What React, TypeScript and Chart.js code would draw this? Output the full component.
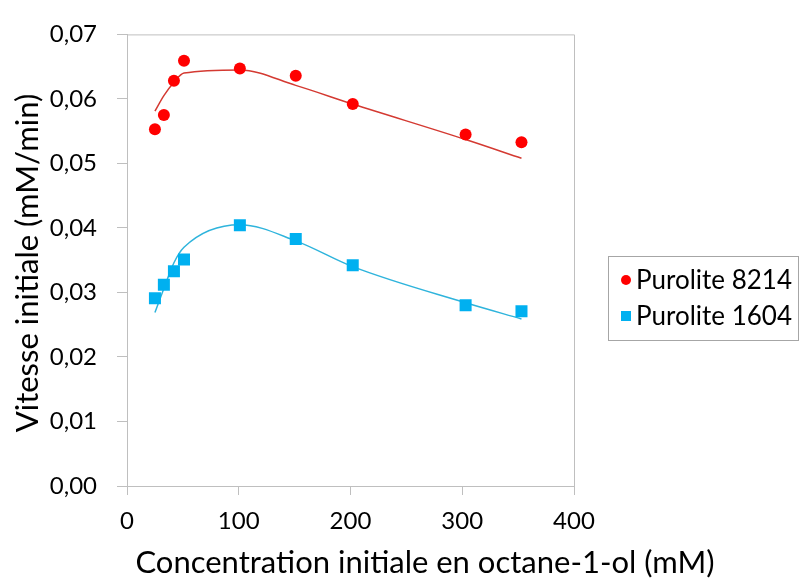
import React, { useEffect, useRef } from "react";
import { Chart, registerables } from "chart.js";

Chart.register(...registerables);

const concentrations = [25, 33, 42, 51, 101, 151, 202, 303, 353];
const purolite8214 = [0.0553, 0.0575, 0.0628, 0.0659, 0.0647, 0.0636, 0.0592, 0.0545, 0.0533];
const purolite1604 = [0.0291, 0.0312, 0.0333, 0.0351, 0.0404, 0.0383, 0.0342, 0.0280, 0.0271];
const fit8214 = [0.0581, 0.0605, 0.0626, 0.0640, 0.0645, 0.0621, 0.0592, 0.0537, 0.0508];
const fit1604 = [0.0269, 0.0306, 0.0346, 0.0370, 0.0405, 0.0380, 0.0340, 0.0284, 0.0259];
const seriesNames = ["Purolite 8214", "Purolite 1604"];
const xTitle = "Concentration initiale en octane-1-ol (mM)";
const yTitle = "Vitesse initiale (mM/min)";

const FONT = "Lato, 'Open Sans', sans-serif";
const RED = "#ff0000";
const RED_LINE = "#d43a32";
const BLUE = "#00b0f0";
const BLUE_LINE = "#2fb4dc";
const FRAME = "#bfbfbf";

const toXY = (xs: number[], ys: number[]) => xs.map((x, i) => ({ x, y: ys[i] }));

const decorPlugin = {
  id: "decor",
  afterDraw(chart: any) {
    const { ctx, chartArea } = chart;
    ctx.save();
    ctx.strokeStyle = FRAME;
    ctx.lineWidth = 1;
    ctx.beginPath();
    ctx.moveTo(chartArea.left, chartArea.top + 0.5);
    ctx.lineTo(chartArea.right + 0.5, chartArea.top + 0.5);
    ctx.lineTo(chartArea.right + 0.5, chartArea.bottom);
    ctx.stroke();

    ctx.fillStyle = "#000";
    ctx.font = `31px ${FONT}`;
    ctx.textAlign = "center";
    ctx.textBaseline = "middle";
    ctx.fillText(xTitle, 425, 563);
    ctx.save();
    ctx.translate(28, 263);
    ctx.rotate(-Math.PI / 2);
    ctx.fillText(yTitle, 0, 0);
    ctx.restore();

    const bx = 608, by = 256, bw = 190, bh = 84;
    ctx.fillStyle = "#fff";
    ctx.fillRect(bx, by, bw, bh);
    ctx.strokeStyle = "#a6a6a6";
    ctx.strokeRect(bx + 0.5, by + 0.5, bw, bh);
    ctx.font = `26px ${FONT}`;
    ctx.textAlign = "left";
    ctx.textBaseline = "middle";
    const rows = [
      { y: 280, color: RED, style: "circle" },
      { y: 316, color: BLUE, style: "rect" },
    ];
    rows.forEach((r, i) => {
      ctx.fillStyle = r.color;
      if (r.style === "circle") {
        ctx.beginPath();
        ctx.arc(626, r.y, 5, 0, Math.PI * 2);
        ctx.fill();
      } else {
        ctx.fillRect(621, r.y - 5, 10, 10);
      }
      ctx.fillStyle = "#000";
      ctx.fillText(seriesNames[i], 636, r.y + 1);
    });
    ctx.restore();
  },
};

export default function App() {
  const ref = useRef<HTMLCanvasElement>(null);
  useEffect(() => {
    if (!ref.current) return;
    const chart = new Chart(ref.current, {
      type: "scatter",
      data: {
        datasets: [
          {
            label: seriesNames[0] + " (modèle)",
            data: toXY(concentrations, fit8214),
            showLine: true,
            borderColor: RED_LINE,
            borderWidth: 1.5,
            pointRadius: 0,
            tension: 0.35,
            cubicInterpolationMode: "monotone",
            order: 2,
          },
          {
            label: seriesNames[1] + " (modèle)",
            data: toXY(concentrations, fit1604),
            showLine: true,
            borderColor: BLUE_LINE,
            borderWidth: 1.5,
            pointRadius: 0,
            tension: 0.35,
            cubicInterpolationMode: "monotone",
            order: 2,
          },
          {
            label: seriesNames[0],
            data: toXY(concentrations, purolite8214),
            backgroundColor: RED,
            borderColor: RED,
            pointStyle: "circle",
            pointRadius: 6,
            pointBorderWidth: 0,
            order: 1,
          },
          {
            label: seriesNames[1],
            data: toXY(concentrations, purolite1604),
            backgroundColor: BLUE,
            borderColor: BLUE,
            pointStyle: "rect",
            pointRadius: 8.5,
            pointBorderWidth: 0,
            order: 1,
          },
        ],
      } as any,
      options: {
        animation: false,
        responsive: false,
        maintainAspectRatio: false,
        layout: { padding: { top: 24, right: 235, left: 0, bottom: 0 } },
        plugins: { legend: { display: false }, tooltip: { enabled: false } },
        scales: {
          x: {
            type: "linear",
            min: 0,
            max: 400,
            ticks: {
              stepSize: 100,
              color: "#000",
              font: { family: FONT, size: 24 },
              padding: 12,
            },
            grid: { drawOnChartArea: false, tickLength: 9, color: FRAME },
            border: { color: FRAME },
            afterFit: (s: any) => {
              s.height = 97;
            },
          },
          y: {
            type: "linear",
            min: 0,
            max: 0.07,
            ticks: {
              stepSize: 0.01,
              color: "#000",
              font: { family: FONT, size: 24 },
              padding: 20,
              callback: (v: any) => Number(v).toFixed(2).replace(".", ","),
            },
            grid: { drawOnChartArea: false, tickLength: 10, color: FRAME },
            border: { color: FRAME },
            afterFit: (s: any) => {
              s.width = 127;
            },
          },
        },
      } as any,
      plugins: [decorPlugin],
    });
    return () => chart.destroy();
  }, []);
  return (
    <div style={{ position: "fixed", left: 0, top: 0, width: 809, height: 583, background: "#fff" }}>
      <canvas ref={ref} width={809} height={583} style={{ display: "block" }} />
    </div>
  );
}
